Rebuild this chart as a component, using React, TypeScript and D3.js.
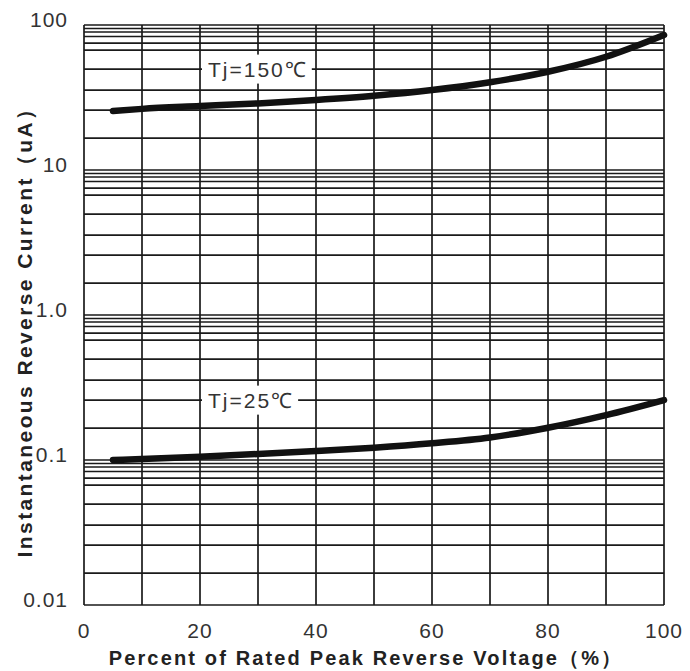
import * as d3 from 'd3';
import React, { useEffect, useRef } from 'react';

// chart size, same as the reference picture
const width = 690;
const height = 671;
const margin = { top: 25, right: 26, bottom: 66, left: 84 };

// x: percent of rated peak reverse voltage
const xTicks = [0, 20, 40, 60, 80, 100];
const xGrid = [0, 10, 20, 30, 40, 50, 60, 70, 80, 90, 100];

// y: log axis, decades and the (hand drawn) minor lines inside each decade
const yDecades = [0.01, 0.1, 1, 10, 100];
const yTickLabels = ['0.01', '0.1', '1.0', '10', '100'];
const minorSteps = [1.66, 2.59, 3.56, 4.97, 6.72, 7.51, 8.33, 8.95, 9.46];

// curves
const voltagePct = [5, 10, 20, 30, 40, 50, 60, 70, 80, 90, 100];
const current150 = [25.5, 26.4, 27.6, 28.8, 30.4, 32.5, 35.6, 40.3, 47.6, 60.4, 85.3];
const current25 = [0.1, 0.1016, 0.1054, 0.11, 0.1153, 0.1216, 0.1304, 0.143, 0.167, 0.204, 0.259];

const seriesLabels = ['Tj=150℃', 'Tj=25℃'];
// label sits on a grid line: [x value, y value]
const labelAnchors: [number, number][] = [
  [20, 49.7],
  [20, 0.259]
];

const App: React.FC = () => {
  const ref = useRef<SVGSVGElement>(null);

  useEffect(() => {
    const svg = d3.select(ref.current);
    svg.selectAll('*').remove();

    const x = d3
      .scaleLinear()
      .domain([0, 100])
      .range([margin.left, width - margin.right]);
    const y = d3
      .scaleLog()
      .domain([0.01, 100])
      .range([height - margin.bottom, margin.top]);

    const font = "'Liberation Sans', Arial, sans-serif";
    const ink = '#1a1a1a';

    const grid = svg.append('g').attr('stroke', ink).attr('stroke-width', 1.7);

    // horizontal grid: decades plus minor lines
    const hLines: number[] = [];
    yDecades.forEach((d, i) => {
      hLines.push(d);
      if (i < yDecades.length - 1) minorSteps.forEach((m) => hLines.push(d * m));
    });
    grid
      .selectAll('line.h')
      .data(hLines)
      .join('line')
      .attr('class', 'h')
      .attr('x1', x(0))
      .attr('x2', x(100))
      .attr('y1', (d) => y(d))
      .attr('y2', (d) => y(d));

    grid
      .selectAll('line.v')
      .data(xGrid)
      .join('line')
      .attr('class', 'v')
      .attr('x1', (d) => x(d))
      .attr('x2', (d) => x(d))
      .attr('y1', y(100))
      .attr('y2', y(0.01));

    // series labels with a white box that hides the grid behind them
    seriesLabels.forEach((label, i) => {
      const [lx, ly] = labelAnchors[i];
      const g = svg.append('g');
      const t = g
        .append('text')
        .attr('x', x(lx) + 8)
        .attr('y', y(ly))
        .attr('dy', '0.36em')
        .attr('font-family', font)
        .attr('font-size', 21)
        .attr('letter-spacing', 2)
        .attr('fill', '#333')
        .text(label);
      const bb = (t.node() as SVGTextElement).getBBox();
      g.insert('rect', 'text')
        .attr('x', x(lx) + 2)
        .attr('y', bb.y - 3)
        .attr('width', bb.width + 10)
        .attr('height', bb.height + 6)
        .attr('fill', '#fff');
    });

    // curves
    const line = d3
      .line<number>()
      .x((_d, i) => x(voltagePct[i]))
      .y((d) => y(d))
      .curve(d3.curveMonotoneX);

    [current150, current25].forEach((s) => {
      svg
        .append('path')
        .attr('d', line(s))
        .attr('fill', 'none')
        .attr('stroke', '#111')
        .attr('stroke-width', 6.5)
        .attr('stroke-linecap', 'round');
    });

    // tick labels
    svg
      .append('g')
      .selectAll('text')
      .data(yDecades)
      .join('text')
      .attr('x', margin.left - 16)
      .attr('y', (d) => y(d) + 2)
      .attr('text-anchor', 'end')
      .attr('font-family', font)
      .attr('font-size', 21)
      .attr('letter-spacing', 1)
      .attr('fill', '#333')
      .text((_d, i) => yTickLabels[i]);

    svg
      .append('g')
      .selectAll('text')
      .data(xTicks)
      .join('text')
      .attr('x', (d) => x(d))
      .attr('y', height - margin.bottom + 33)
      .attr('text-anchor', 'middle')
      .attr('font-family', font)
      .attr('font-size', 21)
      .attr('letter-spacing', 1)
      .attr('fill', '#333')
      .text((d) => d);

    // axis titles
    svg
      .append('text')
      .attr('x', 366)
      .attr('y', height - 6)
      .attr('text-anchor', 'middle')
      .attr('font-family', font)
      .attr('font-weight', 'bold')
      .attr('font-size', 20)
      .attr('letter-spacing', 2.15)
      .attr('fill', '#222')
      .text('Percent of Rated Peak Reverse Voltage（%）');

    svg
      .append('text')
      .attr('transform', `translate(32,327) rotate(-90)`)
      .attr('text-anchor', 'middle')
      .attr('font-family', font)
      .attr('font-weight', 'bold')
      .attr('font-size', 21)
      .attr('letter-spacing', 2.4)
      .attr('fill', '#222')
      .text('Instantaneous Reverse Current（uA）');
  }, []);

  return (
    <div style={{ position: 'absolute', left: 0, top: 0 }}>
      <svg ref={ref} width={width} height={height} style={{ display: 'block', background: '#fff' }}></svg>
    </div>
  );
};

export default App;
